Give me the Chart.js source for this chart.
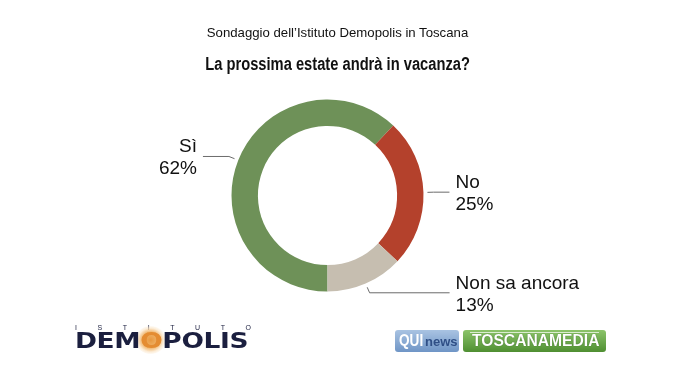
<!DOCTYPE html>
<html>
<head>
<meta charset="utf-8">
<script src="https://cdn.jsdelivr.net/npm/chart.js@4/dist/chart.umd.min.js"></script>
<style>
  html,body{margin:0;padding:0;background:#fff;}
  #wrap{position:relative;width:675px;height:380px;overflow:hidden;font-family:"Liberation Sans",Arial,sans-serif;}
  canvas{position:absolute;left:0;top:0;}
  .sub{position:absolute;left:0;width:675px;top:25px;text-align:center;font-size:13.2px;color:#111;padding-left:0px;}
  .ttl{position:absolute;left:0;width:675px;top:54px;text-align:center;}
  .ttl span{display:inline-block;font-weight:bold;font-size:17.5px;color:#111;transform:scaleX(0.84);transform-origin:center;white-space:nowrap;}
  .logo1{position:absolute;left:75px;top:324px;width:180px;}
  .ist{font-size:7px;color:#1b1f3f;letter-spacing:0;display:flex;justify-content:space-between;width:176px;}
  .dem{position:relative;font-family:"DejaVu Sans",sans-serif;font-weight:bold;font-size:21px;color:#1b1f3f;line-height:20px;margin-top:0px;white-space:nowrap;transform:scaleX(1.26);transform-origin:left;letter-spacing:-0.3px;}
  .oo{position:relative;color:#1b1f3f;}
  .oo::before{content:"";position:absolute;left:-4px;top:-3px;width:24px;height:28px;border-radius:50%;background:radial-gradient(ellipse,#e8983f 0%,#f0b66e 40%,rgba(250,225,190,0.6) 60%,rgba(255,255,255,0) 75%);z-index:-1;}
  .oo span{position:relative;color:#e48c32;}
  .qui{position:absolute;left:395px;top:330px;width:64px;height:22px;border-radius:3px;background:linear-gradient(#a9c3e2,#6f95c6);color:#fff;font-weight:bold;font-size:15px;line-height:22px;white-space:nowrap;overflow:hidden;}
  .qui .q{display:inline-block;margin-left:4px;transform:scaleX(0.8);transform-origin:left;font-size:17px;}
  .qui .n{position:absolute;left:30px;top:1px;color:#2f4f86;font-size:13px;font-weight:bold;}
  .tm{position:absolute;left:463px;top:330px;width:143px;height:22px;border-radius:3px;background:linear-gradient(#8cc46a,#4f8f32);color:#fff;font-weight:bold;font-size:17px;line-height:22px;white-space:nowrap;overflow:hidden;text-shadow:0 0 1px #2d5a1a;}
  .tm span{display:inline-block;margin-left:9px;transform:scaleX(0.92);transform-origin:left;}
  .tm i{position:absolute;left:7px;right:7px;top:2px;border-top:1px solid rgba(255,255,255,0.7);}
</style>
</head>
<body>
<div id="wrap">
  <canvas id="c" width="675" height="380"></canvas>
  <div class="sub">Sondaggio dell’Istituto Demopolis in Toscana</div>
  <div class="ttl"><span>La prossima estate andrà in vacanza?</span></div>
  <div class="logo1">
    <div class="ist"><span>I</span><span>S</span><span>T</span><span>I</span><span>T</span><span>U</span><span>T</span><span>O</span></div>
    <div class="dem">DEM<span class="oo"><span>O</span></span>POLIS</div>
  </div>
  <div class="qui"><span class="q">QUI</span><span class="n">news</span></div>
  <div class="tm"><i></i><span>TOSCANAMEDIA</span></div>
</div>
<script>
const categories = ["Sì", "No", "Non sa ancora"];
const values = [62, 25, 13];
const valueLabels = ["62%", "25%", "13%"];
const colors = ["#6e9158", "#b4412c", "#c6beb0"];

const leaderPlugin = {
  id: 'leaders',
  afterDatasetsDraw(chart, args, opts) {
    const ctx = chart.ctx;
    const meta = chart.getDatasetMeta(0);
    meta.data.forEach((arc, i) => {
      const p = arc.getProps(['x','y','startAngle','endAngle','outerRadius'], true);
      const mid = (p.startAngle + p.endAngle) / 2;
      const c = Math.cos(mid), s = Math.sin(mid);
      const r1 = p.outerRadius + 4, r2 = p.outerRadius + 10;
      const x1 = p.x + c * r1, y1 = p.y + s * r1;
      let x2 = p.x + c * r2, y2 = p.y + s * r2;
      const dir = c >= 0 ? 1 : -1;
      const x3 = x2 + dir * opts.len[i];
      ctx.save();
      ctx.strokeStyle = '#6b6b6b';
      ctx.lineWidth = 1;
      ctx.beginPath();
      ctx.moveTo(x1, y1);
      ctx.lineTo(x2, y2);
      ctx.lineTo(x3, y2);
      ctx.stroke();
      ctx.fillStyle = '#111';
      ctx.font = '19px "Liberation Sans", Arial, sans-serif';
      ctx.textAlign = dir > 0 ? 'left' : 'right';
      ctx.textBaseline = 'alphabetic';
      const tx = x3 + dir * 6;
      ctx.fillText(categories[i], tx, y2 - 4);
      ctx.fillText(valueLabels[i], tx, y2 + 18);
      ctx.restore();
    });
  }
};

new Chart(document.getElementById('c'), {
  type: 'doughnut',
  data: {
    labels: categories,
    datasets: [{
      data: values,
      backgroundColor: colors,
      borderWidth: 0,
      hoverOffset: 0
    }]
  },
  options: {
    responsive: false,
    animation: false,
    rotation: 180,
    cutout: '72.5%',
    layout: { padding: { top: 99.5, bottom: 88.5, left: 100, right: 120 } },
    plugins: {
      legend: { display: false },
      tooltip: { enabled: false },
      leaders: { len: [26, 16, 80] }
    }
  },
  plugins: [leaderPlugin]
});
</script>
</body>
</html>
